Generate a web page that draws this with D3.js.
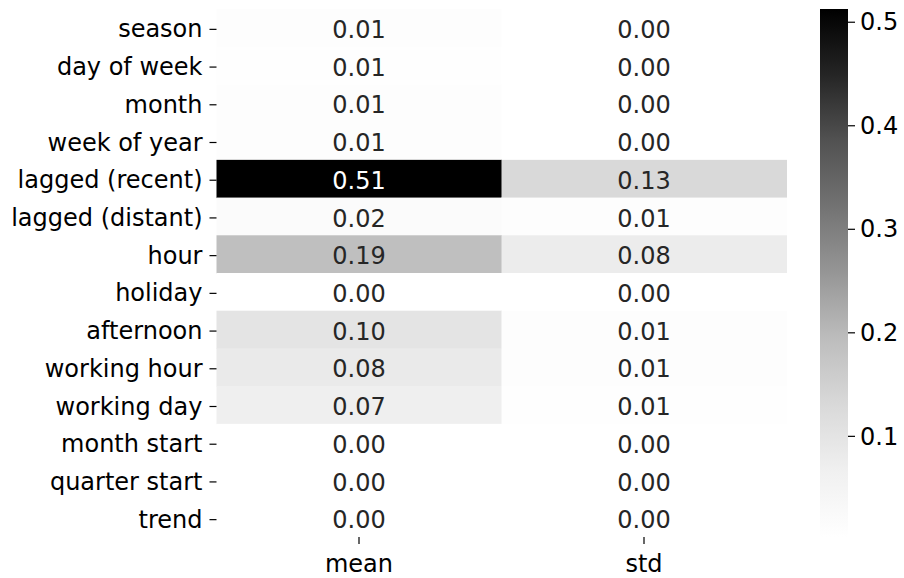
<!DOCTYPE html>
<html>
<head>
<meta charset="utf-8">
<script src="https://cdn.jsdelivr.net/npm/d3@7"></script>
<style>
  html, body { margin: 0; padding: 0; background: #fff; }
  svg { display: block; font-family: "DejaVu Sans", sans-serif; }
</style>
</head>
<body>
<svg id="chart" width="904" height="578"></svg>
<script>
const features = ["season", "day of week", "month", "week of year", "lagged (recent)",
  "lagged (distant)", "hour", "holiday", "afternoon", "working hour", "working day",
  "month start", "quarter start", "trend"];
const columns = ["mean", "std"];
const meanValues = [0.011, 0.008, 0.009, 0.012, 0.5123, 0.021, 0.19, 0.0035, 0.10, 0.083, 0.068, 0.0025, 0.0023, 0.003];
const stdValues = [0.004, 0.003, 0.004, 0.004, 0.13, 0.011, 0.078, 0.0024, 0.011, 0.012, 0.008, 0.0024, 0.0023, 0.0025];
const colorbarTicks = [0.1, 0.2, 0.3, 0.4, 0.5];
const greys = ["#ffffff", "#f0f0f0", "#d9d9d9", "#bdbdbd", "#969696", "#737373", "#525252", "#252525", "#000000"];

const svg = d3.select("#chart");
const fontSize = 24;

const plotLeft = 216.5, plotRight = 786.5, plotTop = 9, plotBottom = 537;

const x = d3.scaleBand().domain(columns).range([plotLeft, plotRight]);
const y = d3.scaleBand().domain(features).range([plotTop, plotBottom]);

const allVals = meanValues.concat(stdValues);
const vmin = d3.min(allVals), vmax = d3.max(allVals);
const color = d3.scaleLinear()
  .domain(d3.range(greys.length).map(i => vmin + (vmax - vmin) * i / (greys.length - 1)))
  .range(greys)
  .clamp(true);

const cells = [];
features.forEach((f, i) => {
  cells.push({ row: f, col: "mean", v: meanValues[i] });
  cells.push({ row: f, col: "std", v: stdValues[i] });
});

svg.append("g").selectAll("rect").data(cells).join("rect")
  .attr("x", d => x(d.col))
  .attr("y", d => y(d.row))
  .attr("width", x.bandwidth() + 0.5)
  .attr("height", y.bandwidth() + 0.5)
  .attr("fill", d => color(d.v));

function lum(c) {
  const rgb = d3.rgb(c);
  const f = v => { v /= 255; return v <= 0.03928 ? v / 12.92 : Math.pow((v + 0.055) / 1.055, 2.4); };
  return 0.2126 * f(rgb.r) + 0.7152 * f(rgb.g) + 0.0722 * f(rgb.b);
}

svg.append("g").selectAll("text").data(cells).join("text")
  .attr("x", d => x(d.col) + x.bandwidth() / 2)
  .attr("y", d => y(d.row) + y.bandwidth() / 2)
  .attr("dy", "0.42em")
  .attr("text-anchor", "middle")
  .attr("font-size", fontSize)
  .attr("fill", d => lum(color(d.v)) > 0.408 ? "#262626" : "#ffffff")
  .text(d => d3.format(".2f")(d.v));

// Y axis
const yAxis = svg.append("g")
  .attr("transform", `translate(${plotLeft},0)`)
  .call(d3.axisLeft(y).tickSize(7).tickPadding(7));
yAxis.select(".domain").remove();
yAxis.selectAll("text").attr("font-size", fontSize).attr("fill", "#000").attr("font-family", "DejaVu Sans").attr("dy", "0.4em");
yAxis.selectAll("line").attr("stroke", "#000").attr("stroke-width", 1.2).attr("transform", "translate(0,1.5)");

// X axis
const xAxis = svg.append("g")
  .attr("transform", `translate(0,${plotBottom})`)
  .call(d3.axisBottom(x).tickSize(7).tickPadding(11));
xAxis.select(".domain").remove();
xAxis.selectAll("text").attr("font-size", fontSize).attr("fill", "#000").attr("font-family", "DejaVu Sans");
xAxis.selectAll("line").attr("stroke", "#000").attr("stroke-width", 1.2);

// Colorbar
const cbLeft = 820, cbRight = 848;
const cbScale = d3.scaleLinear().domain([vmin, vmax]).range([plotBottom, plotTop]);
const defs = svg.append("defs");
const grad = defs.append("linearGradient").attr("id", "cbgrad")
  .attr("x1", 0).attr("y1", 1).attr("x2", 0).attr("y2", 0);
greys.forEach((c, i) => {
  grad.append("stop").attr("offset", i / (greys.length - 1)).attr("stop-color", c);
});
svg.append("rect")
  .attr("x", cbLeft).attr("y", plotTop)
  .attr("width", cbRight - cbLeft).attr("height", plotBottom - plotTop)
  .attr("fill", "url(#cbgrad)");

const cbAxis = svg.append("g")
  .attr("transform", `translate(${cbRight},0)`)
  .call(d3.axisRight(cbScale).tickValues(colorbarTicks).tickFormat(d3.format(".1f")).tickSize(7).tickPadding(5));
cbAxis.select(".domain").remove();
cbAxis.selectAll("text").attr("font-size", fontSize).attr("fill", "#000").attr("font-family", "DejaVu Sans").attr("dy", "0.34em");
cbAxis.selectAll("line").attr("stroke", "#000").attr("stroke-width", 1.2);
</script>
</body>
</html>
